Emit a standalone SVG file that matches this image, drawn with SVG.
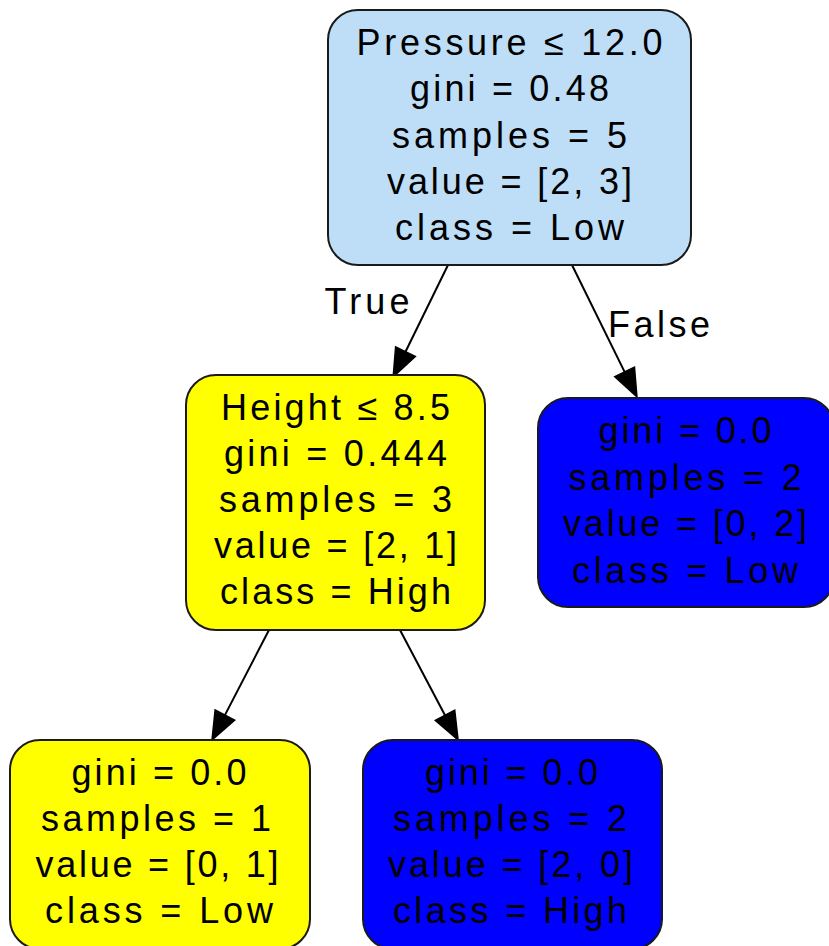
<svg xmlns="http://www.w3.org/2000/svg" width="829" height="946" viewBox="0 0 829 946">
<style>
  .node rect { stroke: #1a1a1a; stroke-width: 2; }
  .n-root rect { fill: #bddef6; }
  .n-yel rect { fill: #ffff00; }
  .n-blue rect { fill: #0000ff; }
  text { font-family: "Liberation Sans", Arial, sans-serif; font-size: 36px; fill: #000; text-anchor: middle; }
  .edge { stroke: #000; stroke-width: 2; fill: none; marker-end: url(#arrow); }
</style>
<defs>
  <marker id="arrow" markerUnits="userSpaceOnUse" markerWidth="30" markerHeight="24" refX="0" refY="11" orient="auto" overflow="visible">
    <polygon points="0,0 28,11 0,22" fill="#000" stroke="#000" stroke-width="1.5"/>
  </marker>
</defs>
<rect width="829" height="946" fill="#ffffff"/>
<g id="connectors">
  <path class="edge" d="M448,265 L405.5,351.7"/>
  <path class="edge" d="M572,265 L624.6,371.9"/>
  <path class="edge" d="M269,630 L224.9,715.1"/>
  <path class="edge" d="M400,630 L445,715.2"/>
  <text x="367" y="314" textLength="85" lengthAdjust="spacing">True</text>
  <text x="659" y="337" textLength="102" lengthAdjust="spacing">False</text>
</g>
<g id="node0" class="node n-root">
  <rect x="328" y="10" width="363" height="255" rx="30" ry="30"/>
  <text x="509.5" y="55" textLength="306" lengthAdjust="spacing">Pressure ≤ 12.0</text>
  <text x="509.5" y="101" textLength="199" lengthAdjust="spacing">gini = 0.48</text>
  <text x="509.5" y="147.5" textLength="235" lengthAdjust="spacing">samples = 5</text>
  <text x="509.5" y="193.5" textLength="245" lengthAdjust="spacing">value = [2, 3]</text>
  <text x="509.5" y="240" textLength="229" lengthAdjust="spacing">class = Low</text>
</g>
<g id="node1" class="node n-yel">
  <rect x="186" y="375" width="299" height="255" rx="30" ry="30"/>
  <text x="335.5" y="420" textLength="229" lengthAdjust="spacing">Height ≤ 8.5</text>
  <text x="335.5" y="466" textLength="223" lengthAdjust="spacing">gini = 0.444</text>
  <text x="335.5" y="512" textLength="233" lengthAdjust="spacing">samples = 3</text>
  <text x="335.5" y="558" textLength="243" lengthAdjust="spacing">value = [2, 1]</text>
  <text x="335.5" y="604" textLength="231" lengthAdjust="spacing">class = High</text>
</g>
<g id="node4" class="node n-blue">
  <rect x="538" y="398" width="296" height="209" rx="30" ry="30"/>
  <text x="685" y="443" textLength="173" lengthAdjust="spacing">gini = 0.0</text>
  <text x="685" y="490" textLength="233" lengthAdjust="spacing">samples = 2</text>
  <text x="685" y="536" textLength="244" lengthAdjust="spacing">value = [0, 2]</text>
  <text x="685" y="583" textLength="226" lengthAdjust="spacing">class = Low</text>
</g>
<g id="node2" class="node n-yel">
  <rect x="10" y="740" width="300" height="209" rx="30" ry="30"/>
  <text x="159" y="785" textLength="175" lengthAdjust="spacing">gini = 0.0</text>
  <text x="156" y="831" textLength="230" lengthAdjust="spacing">samples = 1</text>
  <text x="157" y="877" textLength="243" lengthAdjust="spacing">value = [0, 1]</text>
  <text x="159" y="923" textLength="228" lengthAdjust="spacing">class = Low</text>
</g>
<g id="node3" class="node n-blue">
  <rect x="363" y="740" width="299" height="209" rx="30" ry="30"/>
  <text x="511.5" y="785" textLength="173" lengthAdjust="spacing">gini = 0.0</text>
  <text x="510" y="831" textLength="234" lengthAdjust="spacing">samples = 2</text>
  <text x="510.5" y="877" textLength="245" lengthAdjust="spacing">value = [2, 0]</text>
  <text x="510" y="923" textLength="234" lengthAdjust="spacing">class = High</text>
</g>
</svg>
